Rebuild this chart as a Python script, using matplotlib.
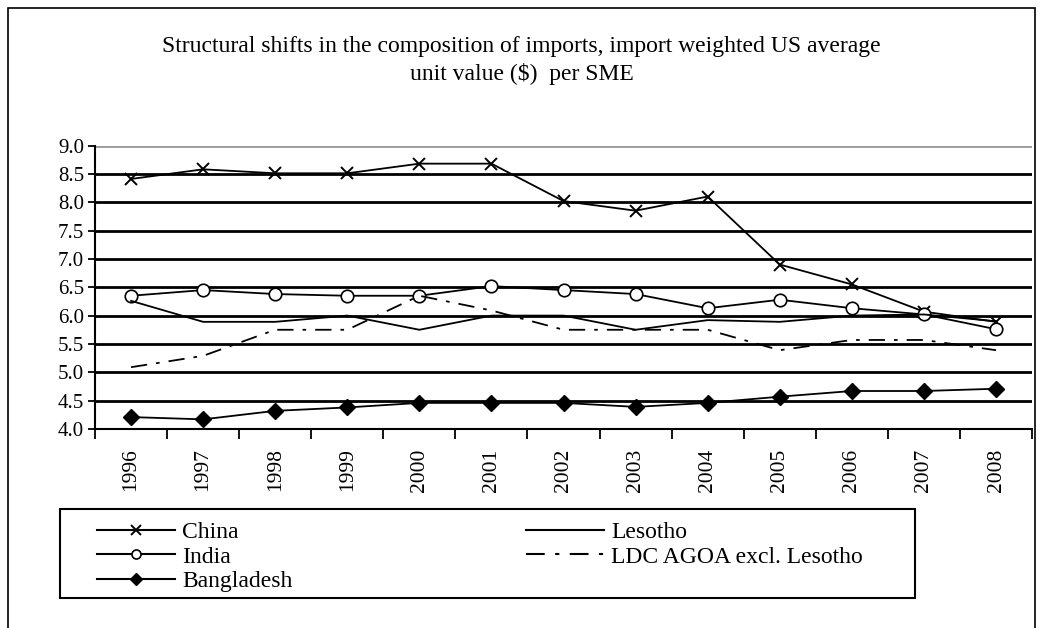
import matplotlib.pyplot as plt
from matplotlib.patches import Rectangle
import numpy as np

plt.rcParams['font.family'] = ['Liberation Serif', 'DejaVu Serif']

years = [1996, 1997, 1998, 1999, 2000, 2001, 2002, 2003, 2004, 2005, 2006, 2007, 2008]
china = [8.41, 8.58, 8.51, 8.51, 8.68, 8.68, 8.02, 7.85, 8.10, 6.90, 6.55, 6.07, 5.89]
india = [6.35, 6.45, 6.38, 6.35, 6.35, 6.52, 6.45, 6.38, 6.13, 6.28, 6.13, 6.02, 5.76]
bangladesh = [4.21, 4.17, 4.32, 4.38, 4.46, 4.46, 4.46, 4.39, 4.46, 4.57, 4.67, 4.67, 4.71]
lesotho = [6.26, 5.89, 5.89, 6.00, 5.75, 6.00, 6.00, 5.75, 5.92, 5.89, 6.00, 6.02, 5.90]
ldc_agoa = [5.09, 5.29, 5.75, 5.75, 6.35, 6.09, 5.75, 5.75, 5.75, 5.39, 5.57, 5.57, 5.39]

fig = plt.figure(figsize=(10.43, 6.28), dpi=100)
ax = fig.add_axes([0.0911, 0.3169, 0.8984, 0.4514])

x = np.arange(len(years))
h1, = ax.plot(x, china, 'k-', marker='x', ms=9, mew=1.4, lw=1.3, label='China')
h2, = ax.plot(x, india, 'k-', marker='o', ms=9, mfc='white', mew=1.2, lw=1.3, label='India')
h3, = ax.plot(x, bangladesh, 'k-', marker='D', ms=8, lw=1.3, label='Bangladesh')
h4, = ax.plot(x, lesotho, 'k-', lw=1.3, label='Lesotho')
h5, = ax.plot(x, ldc_agoa, 'k', ls=(0, (9, 5, 2, 5)), lw=1.3, label='LDC AGOA excl. Lesotho')

ax.set_ylim(4.0, 9.0)
ax.set_xlim(-0.5, len(years) - 0.5)
yt = np.arange(4.0, 9.01, 0.5)
ax.set_yticks(yt)
ax.set_yticklabels(['%.1f' % v for v in yt], fontsize=15)
for v in yt[1:]:
    ax.axhline(v, color='black' if v < 9 else '#999999', lw=2, zorder=0)

ax.set_xticks(x)
ax.set_xticklabels([str(y) for y in years], rotation=90, fontsize=15.5)
ax.tick_params(axis='x', which='major', length=0, pad=14)
ax.set_xticks(np.arange(-0.5, len(years), 1.0), minor=True)
ax.tick_params(axis='x', which='minor', length=7, width=1.3, direction='out')
ax.tick_params(axis='y', length=5, width=1.3, direction='out', pad=3)

for s in ['top', 'right']:
    ax.spines[s].set_visible(False)
ax.spines['left'].set_linewidth(1.5)
ax.spines['bottom'].set_linewidth(1.5)

fig.text(0.5, 0.903, 'Structural shifts in the composition of imports, import weighted US average\nunit value ($)  per SME',
         ha='center', va='center', fontsize=17, linespacing=1.36)

leg = fig.legend(handles=[h1, h2, h3, h4, h5], ncol=2, loc='upper left',
                 bbox_to_anchor=(0.093, 0.169), fontsize=17, frameon=False,
                 handlelength=3.3, handletextpad=0.3, labelspacing=0.12,
                 columnspacing=9.9, borderpad=0, borderaxespad=0)
for lh in leg.legend_handles:
    lh.set_markersize(6.5)
    lh.set_linewidth(1.5)

# legend frame drawn by hand, wider than the legend contents
fig.patches.append(Rectangle((60 / 1043, 1 - 598 / 628), 855 / 1043, 89 / 628,
                             transform=fig.transFigure, fill=False,
                             edgecolor='black', lw=1.5))

fig.patches.append(Rectangle((0.008, -0.01), 0.984, 0.997, transform=fig.transFigure,
                             fill=False, edgecolor='black', lw=1.2))

fig.savefig('out.png', dpi=100)
